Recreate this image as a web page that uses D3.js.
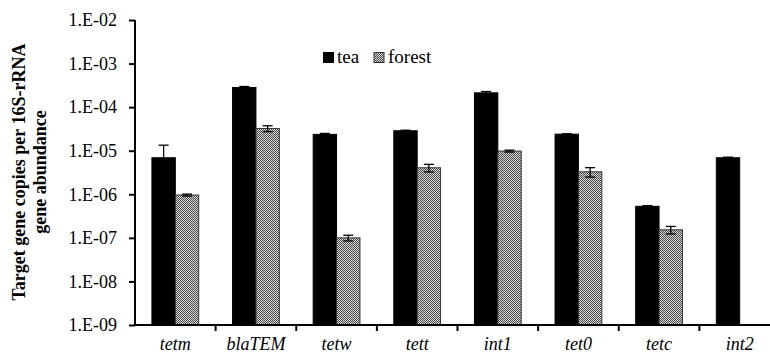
<!DOCTYPE html>
<html lang="en">
<head>
<meta charset="UTF-8">
<title>ARG abundance</title>
<script src="https://d3js.org/d3.v7.min.js"></script>
<style>
    body { margin: 0; background: #fff; }
    svg text { font-family: "Liberation Serif", serif; fill: #000; }
    .tick text { font-size: 18px; }
</style>
</head>
<body>
<svg id="chart" width="770" height="354" font-family="Liberation Serif"></svg>
<script>
    // data
    let genes = ["tetm", "blaTEM", "tetw", "tett", "int1", "tet0", "tetc", "int2"];
    let seriesNames = ["tea", "forest"];
    let teaVals = [6.9e-6, 2.83e-4, 2.37e-5, 2.87e-5, 2.13e-4, 2.4e-5, 5.3e-7, 6.9e-6];
    let teaErr = [6.5e-6, 1.5e-5, 1.2e-6, 8e-7, 1.5e-5, 5e-7, 2e-8, 2e-7];
    let forestVals = [9.6e-7, 3.24e-5, 1.0e-7, 4.06e-6, 9.8e-6, 3.28e-6, 1.53e-7, null];
    let forestErr = [5e-8, 5e-6, 1.5e-8, 8e-7, 5e-7, 8e-7, 3e-8, null];
    let yTicks = [1e-9, 1e-8, 1e-7, 1e-6, 1e-5, 1e-4, 1e-3, 1e-2];

    let svg = d3.select("#chart");

    // checkered fill for forest bars
    let pat = svg.append("defs").append("pattern")
        .attr("id", "checker").attr("patternUnits", "userSpaceOnUse")
        .attr("width", 2).attr("height", 2);
    pat.append("rect").attr("width", 2).attr("height", 2).attr("fill", "#d8d8d8");
    pat.append("rect").attr("width", 1).attr("height", 1).attr("fill", "#4a4a4a");
    pat.append("rect").attr("x", 1).attr("y", 1).attr("width", 1).attr("height", 1).attr("fill", "#4a4a4a");

    let x0 = d3.scaleBand().domain(genes).range([135, 780]);
    let x1 = d3.scaleBand().domain(seriesNames)
        .range([x0.bandwidth() * 0.21, x0.bandwidth() * 0.79]);
    let y = d3.scaleLog().domain([1e-9, 1e-2]).range([325, 20]);

    let rows = [];
    genes.forEach(function (g, i) {
        rows.push({gene: g, s: "tea", v: teaVals[i], e: teaErr[i]});
        if (forestVals[i] != null) rows.push({gene: g, s: "forest", v: forestVals[i], e: forestErr[i]});
    });

    // bars
    svg.append("g").selectAll("rect")
        .data(rows).enter().append("rect")
        .attr("x", d => x0(d.gene) + x1(d.s))
        .attr("y", d => y(d.v))
        .attr("width", x1.bandwidth())
        .attr("height", d => 325 - y(d.v))
        .attr("fill", d => d.s === "tea" ? "#000" : "url(#checker)")
        .attr("stroke", d => d.s === "tea" ? "#000" : "#333")
        .attr("stroke-width", 1);

    // error bars
    let eb = svg.append("g").attr("stroke", "#000").attr("stroke-width", 1.3).attr("fill", "none");
    rows.forEach(function (d) {
        let cx = x0(d.gene) + x1(d.s) + x1.bandwidth() / 2;
        let top = y(d.v + d.e), bot = y(d.v - d.e);
        eb.append("line").attr("x1", cx).attr("x2", cx).attr("y1", top).attr("y2", bot);
        eb.append("line").attr("x1", cx - 5).attr("x2", cx + 5).attr("y1", top).attr("y2", top);
        eb.append("line").attr("x1", cx - 5).attr("x2", cx + 5).attr("y1", bot).attr("y2", bot)
            .attr("stroke", d.s === "tea" ? "none" : "#000");
    });

    // y axis
    let yAxis = svg.append("g").attr("transform", "translate(135,0)")
        .call(d3.axisLeft(y).tickValues(yTicks).tickSize(6).tickPadding(12)
            .tickFormat(d => "1.E" + (Math.log10(d) < 0 ? "-" : "+") + String(Math.abs(Math.round(Math.log10(d)))).padStart(2, "0")));
    yAxis.attr("font-family", null);
    yAxis.select(".domain").attr("stroke-width", 2).attr("d", "M0,20V325");
    yAxis.selectAll(".tick line").attr("stroke-width", 2);

    // x axis
    let xAxis = svg.append("g").attr("transform", "translate(0,325)")
        .call(d3.axisBottom(x0).tickSize(0).tickPadding(14));
    xAxis.attr("font-family", null);
    xAxis.select(".domain").attr("stroke-width", 2).attr("d", "M135,0H770");
    xAxis.selectAll(".tick text").style("font-style", "italic").attr("dy", "0.62em");
    xAxis.selectAll(".sep").data(genes.slice(1)).enter().append("line")
        .attr("class", "sep")
        .attr("x1", d => x0(d)).attr("x2", d => x0(d))
        .attr("y1", 0).attr("y2", 6)
        .attr("stroke", "#000").attr("stroke-width", 2);

    // y title
    let yt = svg.append("text")
        .attr("transform", "translate(25,172) rotate(-90)")
        .attr("text-anchor", "middle")
        .style("font-weight", "bold").style("font-size", "18px");
    yt.append("tspan").attr("x", 0).attr("dy", 0).text("Target gene copies per 16S-rRNA");
    yt.append("tspan").attr("x", 0).attr("dy", 21).text("gene abundance");

    // legend
    let lg = svg.append("g").attr("transform", "translate(323,52)");
    lg.append("rect").attr("width", 11).attr("height", 11).attr("fill", "#000");
    lg.append("text").attr("x", 14).attr("y", 11).style("font-size", "19px").text("tea");
    lg.append("rect").attr("x", 51).attr("y", 0.5).attr("width", 10).attr("height", 10)
        .attr("fill", "url(#checker)").attr("stroke", "#333");
    lg.append("text").attr("x", 65).attr("y", 11).style("font-size", "19px").text("forest");
</script>
</body>
</html>
